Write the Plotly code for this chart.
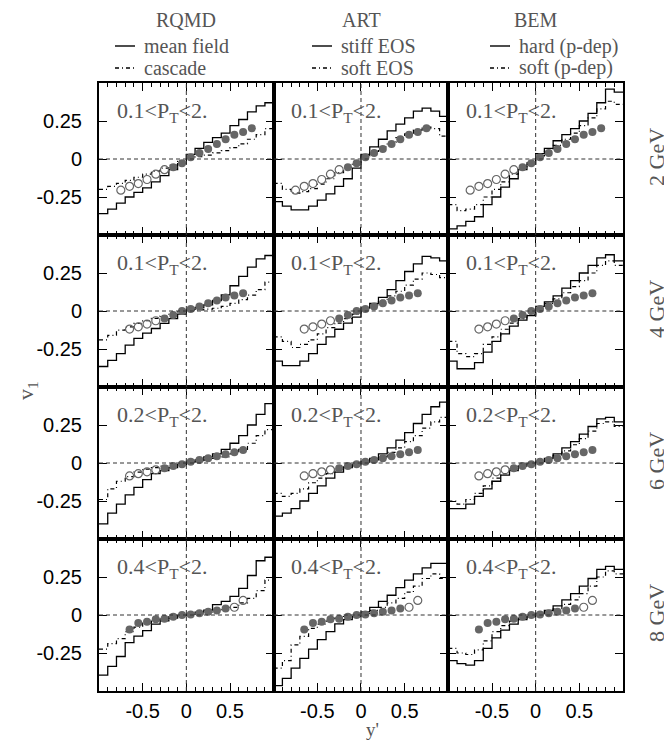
import plotly.graph_objects as go
from plotly.subplots import make_subplots

W, H = 672, 742

# ---------------- data ----------------
bin_edges = [-1.0, -0.9, -0.8, -0.7, -0.6, -0.5, -0.4, -0.3, -0.2, -0.1, 0.0,
             0.1, 0.2, 0.3, 0.4, 0.5, 0.6, 0.7, 0.8, 0.9, 1.0]

# row 1 : 2 GeV
r1_rqmd_mf = [-0.36, -0.33, -0.29, -0.25, -0.22, -0.19, -0.15, -0.11, -0.07, -0.03,
              0.03, 0.07, 0.11, 0.14, 0.17, 0.22, 0.26, 0.31, 0.35, 0.37]
r1_rqmd_cas = [-0.2, -0.18, -0.16, -0.14, -0.12, -0.1, -0.08, -0.06, -0.04, -0.015,
               0.005, 0.015, 0.025, 0.04, 0.055, 0.075, 0.1, 0.13, 0.16, 0.2]
r1_art_stiff = [-0.28, -0.31, -0.335, -0.335, -0.31, -0.27, -0.23, -0.18, -0.13, -0.06,
                0.03, 0.08, 0.13, 0.185, 0.23, 0.27, 0.315, 0.335, 0.315, 0.28]
r1_art_soft = [-0.16, -0.2, -0.225, -0.215, -0.195, -0.165, -0.13, -0.09, -0.055, -0.02,
               0.02, 0.05, 0.08, 0.11, 0.14, 0.165, 0.19, 0.21, 0.2, 0.15]
r1_bem_hard = [-0.46, -0.44, -0.41, -0.38, -0.3, -0.25, -0.185, -0.13, -0.07, -0.033,
               0.035, 0.07, 0.12, 0.16, 0.2, 0.25, 0.3, 0.37, 0.46, 0.44]
r1_bem_soft = [-0.3, -0.34, -0.33, -0.3, -0.25, -0.2, -0.15, -0.1, -0.06, -0.025,
               0.02, 0.05, 0.09, 0.13, 0.17, 0.22, 0.27, 0.33, 0.38, 0.36]

# row 2 : 4 GeV
r2_rqmd_mf = [-0.365, -0.325, -0.28, -0.225, -0.18, -0.145, -0.115, -0.082, -0.05, -0.02,
              0.011, 0.024, 0.04, 0.069, 0.106, 0.166, 0.228, 0.288, 0.343, 0.365]
r2_rqmd_cas = [-0.19, -0.16, -0.126, -0.104, -0.082, -0.064, -0.049, -0.033, -0.015, -0.005,
               0.003, 0.008, 0.012, 0.018, 0.03, 0.05, 0.075, 0.105, 0.14, 0.19]
r2_art_stiff = [-0.33, -0.36, -0.36, -0.33, -0.28, -0.22, -0.17, -0.12, -0.08, -0.04,
                0.02, 0.05, 0.09, 0.14, 0.2, 0.26, 0.31, 0.36, 0.35, 0.33]
r2_art_soft = [-0.17, -0.2, -0.24, -0.22, -0.19, -0.15, -0.11, -0.08, -0.05, -0.02,
               0.02, 0.04, 0.07, 0.1, 0.13, 0.17, 0.21, 0.25, 0.24, 0.22]
r2_bem_hard = [-0.33, -0.38, -0.38, -0.34, -0.27, -0.2, -0.15, -0.1, -0.06, -0.03,
               0.03, 0.06, 0.1, 0.15, 0.2, 0.25, 0.3, 0.35, 0.37, 0.33]
r2_bem_soft = [-0.2, -0.28, -0.3, -0.28, -0.22, -0.17, -0.12, -0.08, -0.05, -0.02,
               0.02, 0.05, 0.08, 0.12, 0.16, 0.2, 0.25, 0.3, 0.33, 0.3]

# row 3 : 6 GeV
r3_rqmd_mf = [-0.4, -0.33, -0.27, -0.21, -0.16, -0.11, -0.07, -0.05, -0.03, -0.01,
              0.01, 0.02, 0.04, 0.06, 0.09, 0.13, 0.18, 0.25, 0.32, 0.39]
r3_rqmd_cas = [-0.24, -0.17, -0.12, -0.09, -0.06, -0.04, -0.03, -0.02, -0.01, -0.005,
               0.005, 0.01, 0.02, 0.03, 0.04, 0.06, 0.09, 0.13, 0.18, 0.22]
r3_art_stiff = [-0.35, -0.33, -0.3, -0.25, -0.2, -0.15, -0.1, -0.06, -0.03, -0.01,
                0.01, 0.03, 0.06, 0.1, 0.15, 0.2, 0.26, 0.32, 0.37, 0.4]
r3_art_soft = [-0.2, -0.22, -0.2, -0.17, -0.13, -0.1, -0.07, -0.04, -0.02, -0.005,
               0.005, 0.02, 0.04, 0.07, 0.1, 0.14, 0.18, 0.23, 0.27, 0.3]
r3_bem_hard = [-0.3, -0.3, -0.27, -0.22, -0.17, -0.12, -0.08, -0.05, -0.02, -0.01,
               0.01, 0.03, 0.06, 0.1, 0.14, 0.19, 0.24, 0.29, 0.3, 0.27]
r3_bem_soft = [-0.25, -0.27, -0.24, -0.2, -0.15, -0.1, -0.07, -0.04, -0.02, -0.005,
               0.005, 0.02, 0.05, 0.08, 0.12, 0.16, 0.21, 0.26, 0.27, 0.24]

# row 4 : 8 GeV
r4_rqmd_mf = [-0.395, -0.338, -0.273, -0.182, -0.139, -0.103, -0.06, -0.038, -0.021, -0.006,
              0.004, 0.019, 0.032, 0.068, 0.09, 0.122, 0.175, 0.26, 0.357, 0.38]
r4_rqmd_cas = [-0.224, -0.188, -0.156, -0.109, -0.08, -0.053, -0.032, -0.023, -0.01, -0.002,
               0.003, 0.008, 0.015, 0.025, 0.035, 0.05, 0.08, 0.11, 0.16, 0.23]
r4_art_stiff = [-0.465, -0.417, -0.35, -0.285, -0.224, -0.162, -0.11, -0.059, -0.03, -0.01,
                0.02, 0.05, 0.09, 0.13, 0.18, 0.23, 0.27, 0.31, 0.34, 0.34]
r4_art_soft = [-0.35, -0.3, -0.197, -0.14, -0.088, -0.06, -0.04, -0.02, -0.01, -0.005,
               0.01, 0.03, 0.05, 0.08, 0.11, 0.15, 0.19, 0.24, 0.27, 0.24]
r4_bem_hard = [-0.3, -0.32, -0.33, -0.3, -0.22, -0.15, -0.1, -0.06, -0.03, -0.01,
               0.01, 0.03, 0.06, 0.1, 0.14, 0.19, 0.24, 0.3, 0.32, 0.3]
r4_bem_soft = [-0.22, -0.25, -0.26, -0.23, -0.17, -0.11, -0.07, -0.04, -0.02, -0.01,
               0.01, 0.02, 0.04, 0.07, 0.1, 0.14, 0.19, 0.25, 0.29, 0.27]

# measured data (filled = measured, open = reflected)
r1_fill_x = [-0.15, -0.05, 0.05, 0.15, 0.25, 0.35, 0.45, 0.55, 0.65, 0.75]
r1_fill_v = [-0.054, -0.028, 0.011, 0.039, 0.065, 0.098, 0.13, 0.159, 0.178, 0.202]
r1_open_x = [-0.75, -0.65, -0.55, -0.45, -0.35, -0.25]
r1_open_v = [-0.205, -0.18, -0.162, -0.135, -0.1, -0.07]

r2_fill_x = [-0.25, -0.15, -0.05, 0.05, 0.15, 0.25, 0.35, 0.45, 0.55, 0.65]
r2_fill_v = [-0.049, -0.027, 0.0, 0.013, 0.029, 0.051, 0.069, 0.088, 0.102, 0.117]
r2_open_x = [-0.65, -0.55, -0.45, -0.35]
r2_open_v = [-0.119, -0.104, -0.086, -0.064]

r3_fill_x = [-0.25, -0.15, -0.05, 0.05, 0.15, 0.25, 0.35, 0.45, 0.55, 0.65]
r3_fill_v = [-0.035, -0.02, -0.008, 0.008, 0.02, 0.032, 0.045, 0.058, 0.07, 0.085]
r3_open_x = [-0.65, -0.55, -0.45, -0.35]
r3_open_v = [-0.085, -0.07, -0.058, -0.045]

r4_fill_x = [-0.65, -0.55, -0.45, -0.35, -0.25, -0.15, -0.05, 0.05, 0.15, 0.25, 0.35, 0.45]
r4_fill_v = [-0.096, -0.053, -0.045, -0.028, -0.024, -0.011, 0.0, 0.004, 0.011, 0.021, 0.03, 0.043]
r4_open_x = [0.55, 0.65]
r4_open_v = [0.051, 0.096]

models = ["RQMD", "ART", "BEM"]
legend_solid = ["mean field", "stiff EOS", "hard (p-dep)"]
legend_dash = ["cascade", "soft EOS", "soft (p-dep)"]
energies = ["2 GeV", "4 GeV", "6 GeV", "8 GeV"]
pt_labels = ["0.1&lt;P<sub>T</sub>&lt;2.", "0.1&lt;P<sub>T</sub>&lt;2.",
             "0.2&lt;P<sub>T</sub>&lt;2.", "0.4&lt;P<sub>T</sub>&lt;2."]
x_tick_vals = [-0.5, 0, 0.5]
x_tick_text = ["-0.5", "0", "0.5"]
y_tick_vals = [-0.25, 0, 0.25]
y_tick_text = ["-0.25", "0", "0.25"]

solid_curves = [[r1_rqmd_mf, r1_art_stiff, r1_bem_hard],
                [r2_rqmd_mf, r2_art_stiff, r2_bem_hard],
                [r3_rqmd_mf, r3_art_stiff, r3_bem_hard],
                [r4_rqmd_mf, r4_art_stiff, r4_bem_hard]]
dash_curves = [[r1_rqmd_cas, r1_art_soft, r1_bem_soft],
               [r2_rqmd_cas, r2_art_soft, r2_bem_soft],
               [r3_rqmd_cas, r3_art_soft, r3_bem_soft],
               [r4_rqmd_cas, r4_art_soft, r4_bem_soft]]
meas = [(r1_fill_x, r1_fill_v, r1_open_x, r1_open_v),
        (r2_fill_x, r2_fill_v, r2_open_x, r2_open_v),
        (r3_fill_x, r3_fill_v, r3_open_x, r3_open_v),
        (r4_fill_x, r4_fill_v, r4_open_x, r4_open_v)]

# ---------------- layout geometry (figure pixels; page adds an 8px body margin) ----------------
LEFT, RIGHT, TOP, BOTTOM = 91, 615, 75, 683
col_w = (RIGHT - LEFT) / 3
row_h = (BOTTOM - TOP) / 4

SERIF = "Liberation Serif"
SANS = "Liberation Sans"
TEXT_GREY = "#555555"
PT_COLOR = "#666666"
DASH = "4px,3px,1px,3px"

fig = make_subplots(rows=4, cols=3, horizontal_spacing=0, vertical_spacing=0)


def step(vals):
    return list(vals) + [vals[-1]]


for r in range(4):
    fx, fv, ox, ov = meas[r]
    for c in range(3):
        fig.add_trace(go.Scatter(x=bin_edges, y=step(dash_curves[r][c]), mode="lines",
                                 line=dict(color="black", width=1.2, dash=DASH, shape="hv"),
                                 showlegend=False, hoverinfo="skip"), row=r + 1, col=c + 1)
        fig.add_trace(go.Scatter(x=bin_edges, y=step(solid_curves[r][c]), mode="lines",
                                 line=dict(color="black", width=1.3, shape="hv"),
                                 showlegend=False, hoverinfo="skip"), row=r + 1, col=c + 1)
        fig.add_trace(go.Scatter(x=ox, y=ov, mode="markers",
                                 marker=dict(symbol="circle-open", size=8, color=PT_COLOR,
                                             line=dict(width=1.2, color=PT_COLOR)),
                                 showlegend=False), row=r + 1, col=c + 1)
        fig.add_trace(go.Scatter(x=fx, y=fv, mode="markers",
                                 marker=dict(symbol="circle", size=8, color=PT_COLOR,
                                             line=dict(width=0)),
                                 showlegend=False), row=r + 1, col=c + 1)
        fig.add_shape(type="line", x0=-1, x1=1, y0=0, y1=0,
                      line=dict(color="#333333", width=1, dash="4px,3px"), row=r + 1, col=c + 1)
        fig.add_shape(type="line", x0=0, x1=0, y0=-0.5, y1=0.5,
                      line=dict(color="#333333", width=1, dash="4px,3px"), row=r + 1, col=c + 1)
        fig.add_annotation(x=-0.82, y=0.31, text=pt_labels[r], showarrow=False,
                           xanchor="left", yanchor="middle",
                           font=dict(family=SERIF, size=22, color=TEXT_GREY),
                           row=r + 1, col=c + 1)

for r in range(4):
    for c in range(3):
        idx = r * 3 + c + 1
        xa = "xaxis" if idx == 1 else f"xaxis{idx}"
        ya = "yaxis" if idx == 1 else f"yaxis{idx}"
        x0 = (LEFT + c * col_w) / W
        x1 = (LEFT + (c + 1) * col_w) / W
        y1 = 1 - (TOP + r * row_h) / H
        y0 = 1 - (TOP + (r + 1) * row_h) / H
        fig.layout[xa].update(
            domain=[x0, x1], range=[-1, 1], showgrid=False, zeroline=False,
            showline=True, linecolor="black", linewidth=2, mirror="ticks",
            ticks="inside", ticklen=8, tickwidth=1.4, tickcolor="black",
            tickvals=x_tick_vals, ticktext=x_tick_text,
            showticklabels=(r == 3), ticklabelstandoff=1,
            tickfont=dict(family=SANS, size=20, color="black"),
            minor=dict(dtick=0.1, tick0=0, ticks="inside", ticklen=4, tickwidth=1,
                       tickcolor="black", showgrid=False),
        )
        fig.layout[ya].update(
            domain=[y0, y1], range=[-0.5, 0.5], showgrid=False, zeroline=False,
            showline=True, linecolor="black", linewidth=2, mirror="ticks",
            ticks="inside", ticklen=8, tickwidth=1.4, tickcolor="black",
            tickvals=y_tick_vals, ticktext=y_tick_text,
            showticklabels=(c == 0), ticklabelstandoff=11,
            tickfont=dict(family=SANS, size=20, color="black"),
        )

legend_line_x = [107, 304, 482]
for c in range(3):
    cx = (LEFT + (c + 0.5) * col_w) / W
    fig.add_annotation(x=cx, y=1.0, xref="paper", yref="paper", text=models[c],
                       showarrow=False, xanchor="center", yanchor="top", borderpad=0,
                       font=dict(family=SERIF, size=20, color=TEXT_GREY))
    lx0 = legend_line_x[c]
    lx1 = lx0 + 20
    for lbl, dsh, yy in [(legend_solid[c], "solid", 38), (legend_dash[c], DASH, 60)]:
        fig.add_shape(type="line", xref="paper", yref="paper",
                      x0=lx0 / W, x1=lx1 / W, y0=1 - yy / H, y1=1 - yy / H,
                      line=dict(color="black", width=1.4, dash=dsh))
        fig.add_annotation(x=(lx1 + 7) / W, y=1 - yy / H, xref="paper", yref="paper",
                           text=lbl, showarrow=False, xanchor="left", yanchor="middle",
                           font=dict(family=SERIF, size=20, color=TEXT_GREY))

for r in range(4):
    cy = 1 - (TOP + (r + 0.5) * row_h - 2) / H
    fig.add_annotation(x=(RIGHT + 33) / W, y=cy, xref="paper", yref="paper", text=energies[r],
                       showarrow=False, textangle=-90, xanchor="center", yanchor="middle",
                       font=dict(family=SERIF, size=22, color=TEXT_GREY))

fig.add_annotation(x=364 / W, y=1 - 721 / H, xref="paper", yref="paper",
                   text="y'", showarrow=False, xanchor="center", yanchor="middle", borderpad=0,
                   font=dict(family=SERIF, size=19, color=TEXT_GREY))
fig.add_annotation(x=19 / W, y=1 - 383 / H, xref="paper", yref="paper",
                   text="v<sub>1</sub>", showarrow=False, textangle=-90,
                   xanchor="center", yanchor="middle",
                   font=dict(family=SERIF, size=22, color=TEXT_GREY))

fig.update_layout(width=W, height=H, margin=dict(l=0, r=0, t=0, b=0),
                  paper_bgcolor="white", plot_bgcolor="white", showlegend=False)

fig.write_html("out.html")
